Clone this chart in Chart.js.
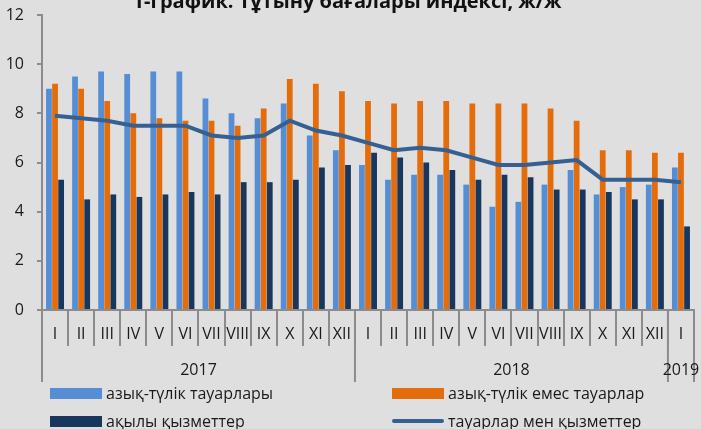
<!DOCTYPE html>
<html>
<head>
<meta charset="utf-8">
<script src="https://cdn.jsdelivr.net/npm/chart.js@4.4.1/dist/chart.umd.min.js"></script>
<style>
    html, body { margin: 0; padding: 0; background: #dfdfdf; }
    #wrap { position: relative; width: 701px; height: 429px; overflow: hidden; background: #dfdfdf; font-family: "Open Sans", sans-serif; }
    /* the title of the original is cut at the top edge */
    #chart { position: absolute; left: 0; top: -13px; }
    .item { position: absolute; display: flex; align-items: center; height: 20px; font-size: 16px; color: #1a1a1a; white-space: nowrap; }
    .swatch { width: 52px; height: 11px; margin-right: 4px; }
    .swatch.line { height: 4px; border-radius: 2px; }
</style>
</head>
<body>
<div id="wrap">
    <canvas id="chart" width="701" height="442"></canvas>
    <div id="legend"></div>
</div>
<script>
(function () {
    "use strict";

    const months = [
        'I', 'II', 'III', 'IV', 'V', 'VI', 'VII', 'VIII', 'IX', 'X', 'XI', 'XII',
        'I', 'II', 'III', 'IV', 'V', 'VI', 'VII', 'VIII', 'IX', 'X', 'XI', 'XII',
        'I'
    ];
    const years = ['2017', '2018', '2019'];
    const yearSpans = [12, 12, 1];

    const food = [9.0, 9.5, 9.7, 9.6, 9.7, 9.7, 8.6, 8.0, 7.8, 8.4, 7.1, 6.5,
        5.9, 5.3, 5.5, 5.5, 5.1, 4.2, 4.4, 5.1, 5.7, 4.7, 5.0, 5.1, 5.8];
    const nonFood = [9.2, 9.0, 8.5, 8.0, 7.8, 7.7, 7.7, 7.5, 8.2, 9.4, 9.2, 8.9,
        8.5, 8.4, 8.5, 8.5, 8.4, 8.4, 8.4, 8.2, 7.7, 6.5, 6.5, 6.4, 6.4];
    const services = [5.3, 4.5, 4.7, 4.6, 4.7, 4.8, 4.7, 5.2, 5.2, 5.3, 5.8, 5.9,
        6.4, 6.2, 6.0, 5.7, 5.3, 5.5, 5.4, 4.9, 4.9, 4.8, 4.5, 4.5, 3.4];
    const total = [7.9, 7.8, 7.7, 7.5, 7.5, 7.5, 7.1, 7.0, 7.1, 7.7, 7.3, 7.1,
        6.8, 6.5, 6.6, 6.5, 6.2, 5.9, 5.9, 6.0, 6.1, 5.3, 5.3, 5.3, 5.2];

    const axisColor = '#8c8c8c';
    const textColor = '#1a1a1a';
    const fontFamily = '"Open Sans", sans-serif';

    /* second level of the x axis: years */
    const yearAxis = {
        id: 'yearAxis',
        afterDraw(chart) {
            const x = chart.scales.x;
            const ctx = chart.ctx;
            const top = x.top;
            const bottom = top + 72;
            ctx.save();
            ctx.strokeStyle = axisColor;
            ctx.lineWidth = 2;
            ctx.fillStyle = textColor;
            ctx.font = '16px ' + fontFamily;
            ctx.textAlign = 'center';
            ctx.textBaseline = 'middle';
            let start = 0;
            years.forEach((year, i) => {
                const end = start + yearSpans[i];
                const x0 = x.getPixelForValue(start - 0.5);
                const x1 = x.getPixelForValue(end - 0.5);
                ctx.beginPath();
                ctx.moveTo(x0, top);
                ctx.lineTo(x0, bottom);
                if (i === years.length - 1) {
                    ctx.moveTo(x1, top);
                    ctx.lineTo(x1, bottom);
                }
                ctx.stroke();
                ctx.fillText(year, (x0 + x1) / 2, top + 60);
                start = end;
            });
            ctx.restore();
        }
    };

    const data = {
        labels: months,
        datasets: [{
            type: 'line',
            label: 'тауарлар мен қызметтер',
            data: total,
            borderColor: '#376092',
            backgroundColor: '#376092',
            borderWidth: 4,
            pointRadius: 0,
            tension: 0,
            order: 0
        }, {
            label: 'азық-түлік тауарлары',
            data: food,
            backgroundColor: '#558ed5',
            order: 1
        }, {
            label: 'азық-түлік емес тауарлар',
            data: nonFood,
            backgroundColor: '#e46c0a',
            order: 1
        }, {
            label: 'ақылы қызметтер',
            data: services,
            backgroundColor: '#17375e',
            order: 1
        }]
    };

    const config = {
        type: 'bar',
        data: data,
        options: {
            responsive: false,
            animation: false,
            datasets: {
                bar: {
                    categoryPercentage: 0.7,
                    barPercentage: 0.95
                }
            },
            layout: {
                padding: { left: 0, right: 7, top: 0, bottom: 46 }
            },
            plugins: {
                legend: { display: false },
                tooltip: { enabled: false },
                title: {
                    display: true,
                    text: '1-график. Тұтыну бағалары индексі, ж/ж',
                    color: '#111',
                    font: { family: fontFamily, size: 20, weight: 'bold', lineHeight: 1.2 },
                    padding: { top: 3, bottom: 1 }
                }
            },
            scales: {
                x: {
                    grid: {
                        offset: true,
                        drawOnChartArea: false,
                        tickLength: 36,
                        color: axisColor,
                        lineWidth: 2
                    },
                    border: { color: axisColor, width: 2 },
                    ticks: {
                        color: textColor,
                        font: { family: fontFamily, size: 16 },
                        padding: -21,
                        maxRotation: 0,
                        autoSkip: false
                    },
                    afterFit(scale) { scale.height = 73; }
                },
                y: {
                    min: 0,
                    max: 12,
                    grid: {
                        drawOnChartArea: false,
                        tickLength: 5,
                        color: axisColor,
                        lineWidth: 2
                    },
                    border: { color: axisColor, width: 2 },
                    ticks: {
                        stepSize: 2,
                        padding: 13,
                        color: textColor,
                        font: { family: fontFamily, size: 16 }
                    },
                    afterFit(scale) { scale.width = 42; }
                }
            }
        },
        plugins: [yearAxis]
    };

    const myChart = new Chart(document.getElementById('chart'), config);

    /* legend in two columns, like the original */
    const legendOrder = [1, 2, 3, 0];
    const cols = [50, 392];
    const rows = [383, 411];
    const legend = document.getElementById('legend');
    legendOrder.forEach((di, i) => {
        const ds = myChart.data.datasets[di];
        const item = document.createElement('div');
        item.className = 'item';
        item.style.left = cols[i % 2] + 'px';
        item.style.top = rows[Math.floor(i / 2)] + 'px';
        const sw = document.createElement('span');
        sw.className = 'swatch' + (ds.type === 'line' ? ' line' : '');
        sw.style.background = ds.backgroundColor;
        const txt = document.createElement('span');
        txt.textContent = ds.label;
        item.appendChild(sw);
        item.appendChild(txt);
        legend.appendChild(item);
    });
})();
</script>
</body>
</html>
